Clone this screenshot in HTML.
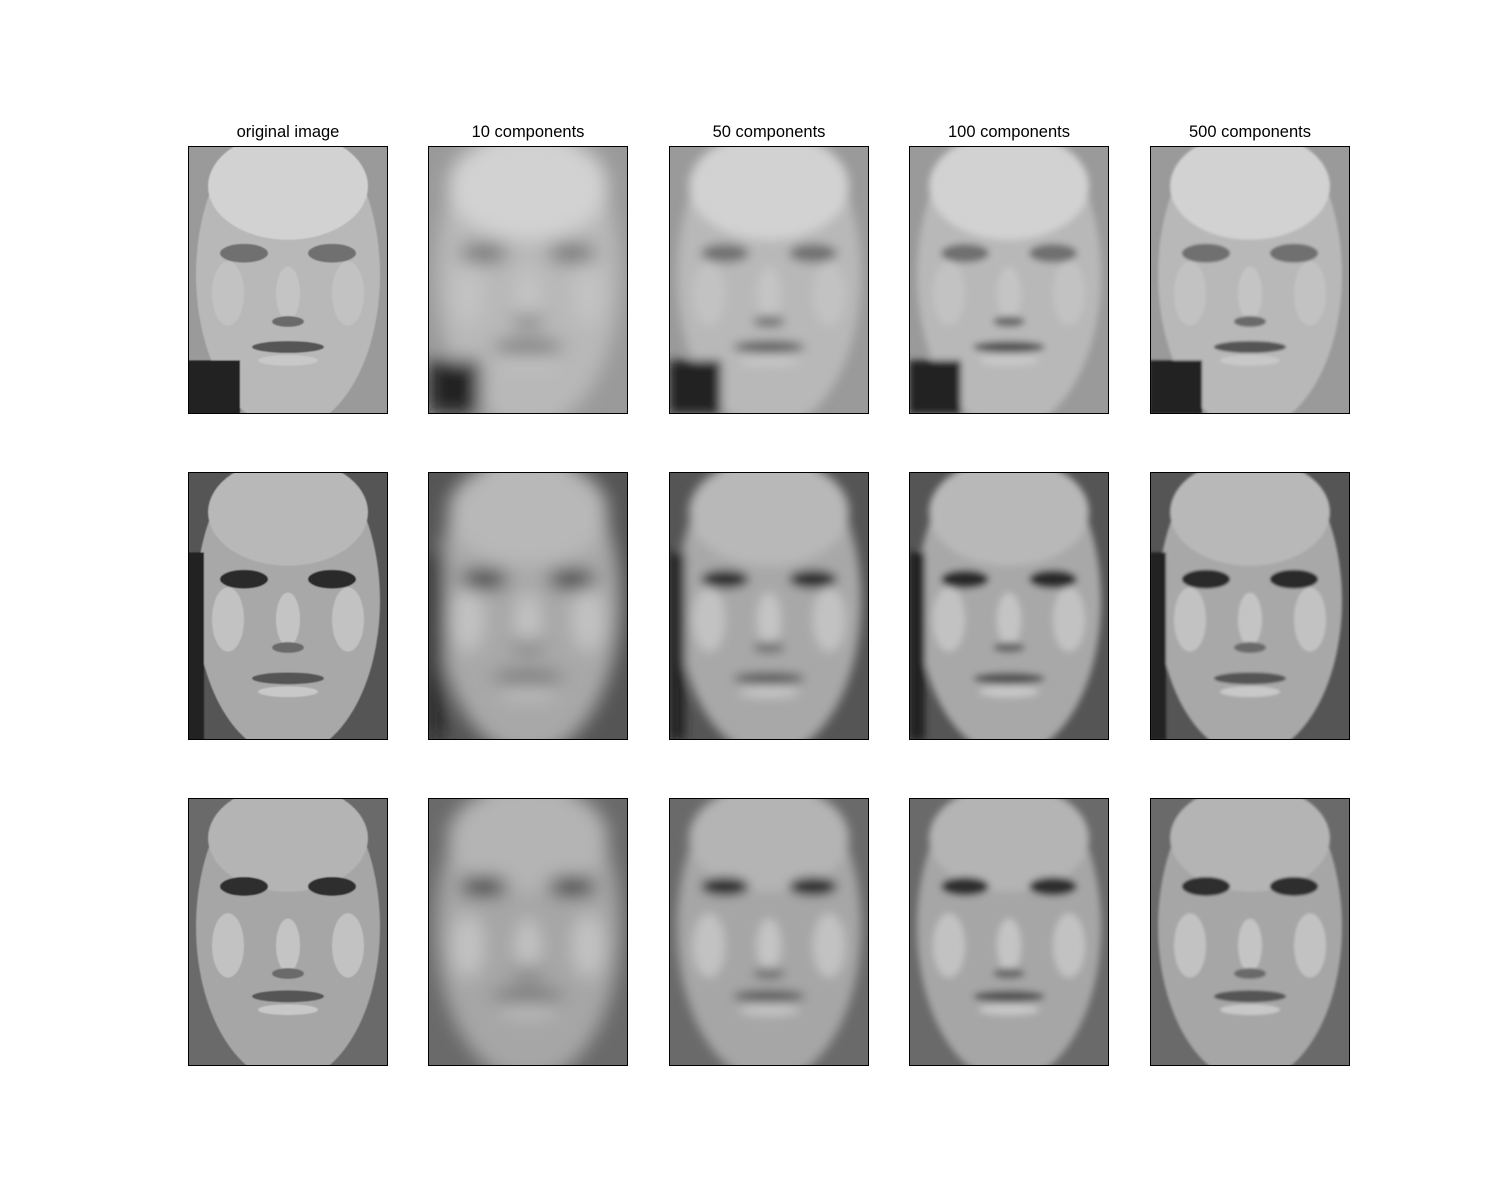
<!DOCTYPE html>
<html><head><meta charset="utf-8"><style>
html,body{margin:0;padding:0;background:#fff;width:1500px;height:1200px;overflow:hidden}
svg{display:block}
</style></head><body>
<svg id="fig" width="1500" height="1200" xmlns="http://www.w3.org/2000/svg" font-family="'Liberation Sans','DejaVu Sans',sans-serif"></svg>
<script>
const titles = ["original image","10 components","50 components","100 components","500 components"];
const colX = [188,428,669,909,1150];
const rowY = [146,472,798];
const blurs = [0.6,9,5,3.5,1.2];
// per-row face params: background, face, forehead, eye y, mouth y, eye darkness
const rowBg = ["#9a9a9a","#555","#6a6a6a"];
const rowFace = ["#b8b8b8","#a8a8a8","#a6a6a6"];
const rowForehead = ["#d2d2d2","#b8b8b8","#b4b4b4"];
const rowEyeY = [0.40,0.40,0.33];
const rowMouthY = [0.75,0.77,0.74];
const rowEye = ["#707070","#2a2a2a","#2e2e2e"];
const W=200,H=268;
const NS="http://www.w3.org/2000/svg";
const svg=document.getElementById('fig');
const defs=document.createElementNS(NS,'defs');svg.appendChild(defs);
function mk(tag,attrs,parent){const e=document.createElementNS(NS,tag);for(const k in attrs)e.setAttribute(k,attrs[k]);(parent||svg).appendChild(e);return e;}
blurs.forEach((b,i)=>{const f=mk('filter',{id:'bl'+i,x:'-20%',y:'-20%',width:'140%',height:'140%'},defs);mk('feGaussianBlur',{stdDeviation:b},f);});
rowY.forEach((y0,r)=>{
  colX.forEach((x0,c)=>{
    const cp=mk('clipPath',{id:'cp'+r+'_'+c},defs);
    mk('rect',{x:x0,y:y0,width:W,height:H},cp);
    const g=mk('g',{'clip-path':'url(#cp'+r+'_'+c+')'});
    
    
    mk('rect',{x:x0,y:y0,width:W,height:H,fill:rowBg[r]},g);
    const inner=mk('g',{filter:'url(#bl'+c+')'},g);
    const cx=x0+W/2;
    mk('ellipse',{cx:cx,cy:y0+H*0.48,rx:W*0.46,ry:H*0.58,fill:rowFace[r]},inner);
    mk('ellipse',{cx:cx,cy:y0+H*0.15,rx:W*0.4,ry:H*0.2,fill:rowForehead[r]},inner);
    if(r===0){mk('rect',{x:x0,y:y0+H*0.8,width:W*0.26,height:H*0.2,fill:'#222'},inner);}
    if(r===1){mk('rect',{x:x0,y:y0+H*0.3,width:W*0.08,height:H*0.7,fill:'#222'},inner);}
    const ey=y0+H*rowEyeY[r];
    mk('ellipse',{cx:cx-W*0.22,cy:ey,rx:W*0.12,ry:H*0.035,fill:rowEye[r]},inner);
    mk('ellipse',{cx:cx+W*0.22,cy:ey,rx:W*0.12,ry:H*0.035,fill:rowEye[r]},inner);
    mk('ellipse',{cx:cx,cy:y0+H*0.55,rx:W*0.06,ry:H*0.1,fill:'#c4c4c4'},inner);
    mk('ellipse',{cx:cx,cy:y0+H*0.655,rx:W*0.08,ry:H*0.02,fill:'#6a6a6a'},inner);
    mk('ellipse',{cx:cx,cy:y0+H*rowMouthY[r],rx:W*0.18,ry:H*0.022,fill:'#555'},inner);
    mk('ellipse',{cx:cx,cy:y0+H*(rowMouthY[r]+0.05),rx:W*0.15,ry:H*0.02,fill:'#c8c8c8'},inner);
    mk('ellipse',{cx:cx-W*0.3,cy:y0+H*0.55,rx:W*0.08,ry:H*0.12,fill:'#c2c2c2'},inner);
    mk('ellipse',{cx:cx+W*0.3,cy:y0+H*0.55,rx:W*0.08,ry:H*0.12,fill:'#c2c2c2'},inner);
    const fr=mk('rect',{x:x0+0.5,y:y0+0.5,width:W-1,height:H-1,fill:'none',stroke:'#000','stroke-width':1});
    
    
  });
});
titles.forEach((t,c)=>{
  const tx=mk('text',{x:colX[c]+W/2,y:137,'text-anchor':'middle','font-size':16.5,fill:'#000'});
  tx.textContent=t;
  
  
});
</script>
</body></html>
